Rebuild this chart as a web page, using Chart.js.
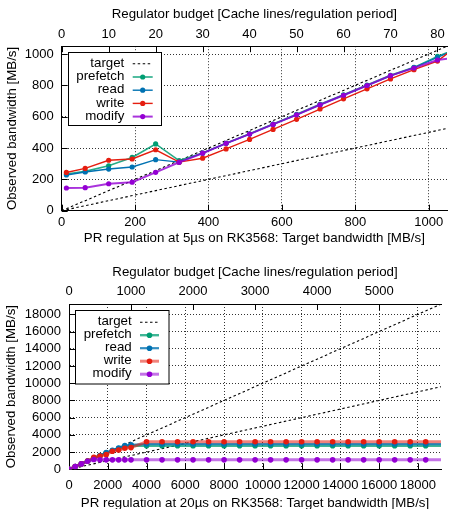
<!DOCTYPE html>
<html><head><meta charset="utf-8">
<script src="https://cdn.jsdelivr.net/npm/chart.js@4/dist/chart.umd.min.js"></script>
<style>
html,body{margin:0;padding:0;background:#fff;overflow:hidden;}
#wrap{position:relative;width:449px;height:509px;overflow:hidden;background:#fff;}
.box{position:absolute;left:0;overflow:hidden;}
canvas{display:block;}
</style></head><body>
<div id="wrap">
<div class="box" style="top:0;width:449px;height:255px"><canvas id="c1" width="451" height="255"></canvas></div>
<div class="box" style="top:255px;width:449px;height:254px"><canvas id="c2" width="445" height="254"></canvas></div>
</div>
<script>
// ---------- data: top chart (5 us period) ----------
const topBudget   = [1, 5, 10, 15, 20, 25, 30, 35, 40, 45, 50, 55, 60, 65, 70, 75, 80, 85];
const topX        = [12.8, 64, 128, 192, 256, 320, 384, 448, 512, 576, 640, 704, 768, 832, 896, 960, 1024, 1088];
const topPrefetch = [234, 251, 287, 340, 426, 320, 368, 430, 491, 553, 615, 679, 740, 802, 864, 915, 985, 1045];
const topRead     = [228, 247, 266, 279, 326, 310, 367, 430, 489, 551, 612, 676, 737, 799, 861, 913, 978, 1045];
const topWrite    = [244, 270, 322, 330, 389, 310, 335, 394, 455, 519, 583, 649, 714, 778, 841, 900, 955, 1070];
const topModify   = [145, 147, 172, 182, 245, 309, 367, 430, 489, 551, 612, 676, 737, 799, 862, 911, 962, 980];
const topTargetX  = [0, 1100];
const topTargetY  = [0, 1100];
const topHalfY    = [0, 550];
const topXTicks   = [0, 200, 400, 600, 800, 1000];
const topYTicks   = [0, 200, 400, 600, 800, 1000];
const topBudgetTicks = [0, 10, 20, 30, 40, 50, 60, 70, 80];

// ---------- data: bottom chart (20 us period) ----------
const botX        = [3.2, 320, 640, 960, 1280, 1600, 1920, 2240, 2560, 2880, 3200, 4000, 4800, 5600, 6400, 7200, 8000, 8800, 9600, 10400, 11200, 12000, 12800, 13600, 14400, 15200, 16000, 16800, 17600, 18400, 19200];
const botPrefetch = [3, 320, 640, 960, 1290, 1580, 1900, 2150, 2420, 2650, 2720, 2730, 2730, 2730, 2730, 2730, 2730, 2730, 2730, 2730, 2730, 2730, 2730, 2730, 2730, 2730, 2730, 2730, 2730, 2730, 2730];
const botRead     = [3, 320, 640, 960, 1300, 1600, 1960, 2200, 2480, 2750, 2850, 2930, 2930, 2930, 2930, 2930, 2930, 2930, 2930, 2930, 2930, 2930, 2930, 2930, 2930, 2930, 2930, 2930, 2930, 2930, 2930];
const botWrite    = [3, 320, 640, 960, 1380, 1550, 1700, 2100, 2250, 2450, 2520, 3200, 3200, 3200, 3200, 3200, 3200, 3200, 3200, 3200, 3200, 3200, 3200, 3200, 3200, 3200, 3200, 3200, 3200, 3200, 3200];
const botModify   = [3, 310, 625, 940, 1140, 1100, 1100, 1100, 1100, 1100, 1100, 1100, 1100, 1100, 1100, 1100, 1100, 1100, 1100, 1100, 1100, 1100, 1100, 1100, 1100, 1100, 1100, 1100, 1100, 1100, 1100];
const botTargetX  = [0, 20000];
const botTargetY  = [0, 20000];
const botHalfY    = [0, 10000];
const botXTicks   = [0, 2000, 4000, 6000, 8000, 10000, 12000, 14000, 16000, 18000];
const botYTicks   = [0, 2000, 4000, 6000, 8000, 10000, 12000, 14000, 16000, 18000];
const botBudgetTicks = [0, 1000, 2000, 3000, 4000, 5000];

const seriesNames = ['target', 'prefetch', 'read', 'write', 'modify'];
const xTitleTop = 'PR regulation at 5µs on RK3568: Target bandwidth [MB/s]';
const xTitleBot = 'PR regulation at 20µs on RK3568: Target bandwidth [MB/s]';
const x2Title = 'Regulator budget [Cache lines/regulation period]';
const yTitle = 'Observed bandwidth [MB/s]';

// ---------- styling ----------
const FONT = '"Liberation Sans", Arial, Helvetica, sans-serif';
Chart.defaults.color = '#000';
Chart.defaults.font.family = FONT;

const COL = {
  prefetch: '#009e73', read: '#0072b2', write: '#e51e10', modify: '#9400d3'
};
function rgba(hex, a) {
  const n = parseInt(hex.slice(1), 16);
  return `rgba(${(n >> 16) & 255},${(n >> 8) & 255},${n & 255},${a})`;
}
const pts = (xs, ys) => xs.map((x, i) => ({x, y: ys[i]}));
const plain = v => String(v);

const inwardTicks = {
  id: 'inwardTicks',
  beforeDatasetsDraw(chart) {
    const {ctx, chartArea: a} = chart;
    const L = 6;
    ctx.save();
    ctx.strokeStyle = '#000';
    ctx.lineWidth = 1;
    Object.values(chart.scales).forEach(s => {
      s.ticks.forEach((t, i) => {
        const p = Math.round(s.getPixelForTick(i)) + 0.5;
        ctx.beginPath();
        if (s.position === 'bottom') { ctx.moveTo(p, a.bottom); ctx.lineTo(p, a.bottom - L); }
        else if (s.position === 'top') { ctx.moveTo(p, a.top); ctx.lineTo(p, a.top + L); }
        else { ctx.moveTo(a.left, p); ctx.lineTo(a.left + L, p); }
        ctx.stroke();
      });
    });
    ctx.restore();
  }
};

const boxLegend = {
  id: 'boxLegend',
  afterDatasetsDraw(chart, args, o) {
    const ctx = chart.ctx;
    ctx.save();
    ctx.fillStyle = '#fff';
    ctx.fillRect(o.x, o.y, o.w, o.h);
    ctx.strokeStyle = '#000';
    ctx.lineWidth = 1;
    ctx.setLineDash([]);
    ctx.strokeRect(o.x, o.y, o.w, o.h);
    const items = chart.data.datasets.filter(d => d.legendRank !== undefined)
      .sort((p, q) => p.legendRank - q.legendRank);
    items.forEach((d, k) => {
      const y = o.row0 + k * o.step;
      ctx.font = `${o.fontSize}px ${FONT}`;
      ctx.fillStyle = '#000';
      ctx.textAlign = 'right';
      ctx.textBaseline = 'middle';
      ctx.fillText(d.label, o.textRight, y);
      ctx.beginPath();
      ctx.strokeStyle = d.borderColor;
      ctx.lineWidth = d.borderWidth;
      ctx.setLineDash(d.borderDash || []);
      ctx.moveTo(o.s1, y + 0.5);
      ctx.lineTo(o.s2, y + 0.5);
      ctx.stroke();
      ctx.setLineDash([]);
      if (d.legendPoint) {
        ctx.beginPath();
        ctx.fillStyle = d.pointBackgroundColor;
        ctx.arc((o.s1 + o.s2) / 2, y + 0.5, d.legendPoint, 0, Math.PI * 2);
        ctx.fill();
      }
    });
    ctx.restore();
  }
};

function makeChart(id, cfg) {
  const tickFont = {size: 13, family: FONT};
  const titleFont = {size: 13.3, family: FONT, lineHeight: 0.9};
  const grid = {color: '#333', lineWidth: 1, drawTicks: false};
  const border = {display: true, color: '#000', width: 1, dash: [1, 2]};
  const datasets = [
    {label: seriesNames[0], legendRank: 0, data: pts(cfg.tX, cfg.tY), borderColor: '#000', borderWidth: 1.1,
     borderDash: [2.5, 2.5], pointRadius: 0, order: 5, clip: 0},
    {label: 'half', data: pts(cfg.tX, cfg.hY), borderColor: '#000', borderWidth: 1.1,
     borderDash: [2.5, 2.5], pointRadius: 0, order: 6, clip: 0},
  ];
  cfg.series.forEach((s, k) => {
    datasets.push({
      label: s.name, legendRank: k + 1, legendPoint: s.r,
      data: pts(cfg.x, s.y),
      borderColor: rgba(COL[s.name], s.a), borderWidth: s.w,
      pointBackgroundColor: COL[s.name], pointBorderWidth: 0, pointBorderColor: COL[s.name],
      pointRadius: c => (cfg.hideLast && c.dataIndex === cfg.x.length - 1) ? 0 : s.r,
      order: s.order, clip: 0, tension: 0
    });
  });
  return new Chart(document.getElementById(id), {
    type: 'line',
    data: {datasets},
    plugins: [inwardTicks, boxLegend],
    options: {
      responsive: false, animation: false, devicePixelRatio: 1,
      layout: {padding: 0},
      plugins: {legend: {display: false}, tooltip: {enabled: false}, boxLegend: cfg.legend},
      scales: {
        x: {
          type: 'linear', position: 'bottom', min: 0, max: cfg.xMax,
          afterBuildTicks: s => { s.ticks = cfg.xTicks.map(v => ({value: v})); },
          ticks: {font: tickFont, color: '#000', padding: cfg.xTickPad, maxRotation: 0, autoSkip: false, callback: plain},
          grid, border,
          title: {display: true, text: cfg.xTitle, font: titleFont, color: '#000', padding: {top: 0, bottom: cfg.xTitlePad}},
          afterFit: s => { s.height = cfg.xH; }
        },
        x2: {
          type: 'linear', position: 'top', min: 0, max: cfg.xMax / cfg.scale2,
          afterBuildTicks: s => { s.ticks = cfg.x2Ticks.map(v => ({value: v})); },
          ticks: {font: tickFont, color: '#000', padding: cfg.x2TickPad, maxRotation: 0, autoSkip: false, callback: plain},
          grid: {drawOnChartArea: false, drawTicks: false, color: '#000'},
          border: {display: true, color: '#000', width: 1},
          title: {display: true, text: x2Title, font: titleFont, color: '#000', padding: {top: cfg.x2TitlePad, bottom: 0}},
          afterFit: s => { s.height = cfg.x2H; }
        },
        y: {
          type: 'linear', position: 'left', min: 0, max: cfg.yMax,
          afterBuildTicks: s => { s.ticks = cfg.yTicks.map(v => ({value: v})); },
          ticks: {font: tickFont, color: '#000', padding: 8, autoSkip: false, callback: plain},
          grid, border,
          title: {display: true, text: yTitle, font: titleFont, color: '#000', padding: {top: cfg.yTitlePad, bottom: 0}},
          afterFit: s => { s.width = cfg.yW; }
        }
      }
    }
  });
}

makeChart('c1', {
  x: topX, tX: topTargetX, tY: topTargetY, hY: topHalfY,
  xMax: 1050, yMax: 1050, scale2: 12.8,
  xTicks: topXTicks, yTicks: topYTicks, x2Ticks: topBudgetTicks,
  xTitle: xTitleTop,
  xH: 44.3, x2H: 46.2, yW: 61.7,
  xTickPad: 3.8, x2TickPad: 4.2, xTitlePad: 10.2, x2TitlePad: 8.2, yTitlePad: 6.5,
  hideLast: false,
  series: [
    {name: 'prefetch', y: topPrefetch, w: 1.6, a: 0.85, r: 2.6, order: 4},
    {name: 'read', y: topRead, w: 1.4, a: 1, r: 2.6, order: 3},
    {name: 'write', y: topWrite, w: 1.4, a: 1, r: 2.6, order: 2},
    {name: 'modify', y: topModify, w: 2, a: 0.8, r: 2.6, order: 1},
  ],
  legend: {x: 68.5, y: 52.5, w: 93, h: 73, textRight: 124.3, s1: 132.7, s2: 152.7, row0: 63.3, step: 13.2, fontSize: 13.3}
});

makeChart('c2', {
  x: botX, tX: botTargetX, tY: botTargetY, hY: botHalfY,
  xMax: 19190, yMax: 19200, scale2: 3.2,
  xTicks: botXTicks, yTicks: botYTicks, x2Ticks: botBudgetTicks,
  xTitle: xTitleBot,
  xH: 39.7, x2H: 49, yW: 69,
  xTickPad: 8.7, x2TickPad: 5, xTitlePad: 0, x2TitlePad: 11.7, yTitlePad: 5.7,
  hideLast: true,
  series: [
    {name: 'prefetch', y: botPrefetch, w: 2.4, a: 0.75, r: 2.8, order: 4},
    {name: 'read', y: botRead, w: 2.2, a: 0.8, r: 2.8, order: 3},
    {name: 'write', y: botWrite, w: 3, a: 0.55, r: 2.8, order: 2},
    {name: 'modify', y: botModify, w: 3, a: 0.55, r: 2.8, order: 1},
  ],
  legend: {x: 75.5, y: 55.5, w: 93.5, h: 73.5, textRight: 131.7, s1: 140, s2: 159, row0: 66.7, step: 13, fontSize: 13.3}
});
</script>
</body></html>
